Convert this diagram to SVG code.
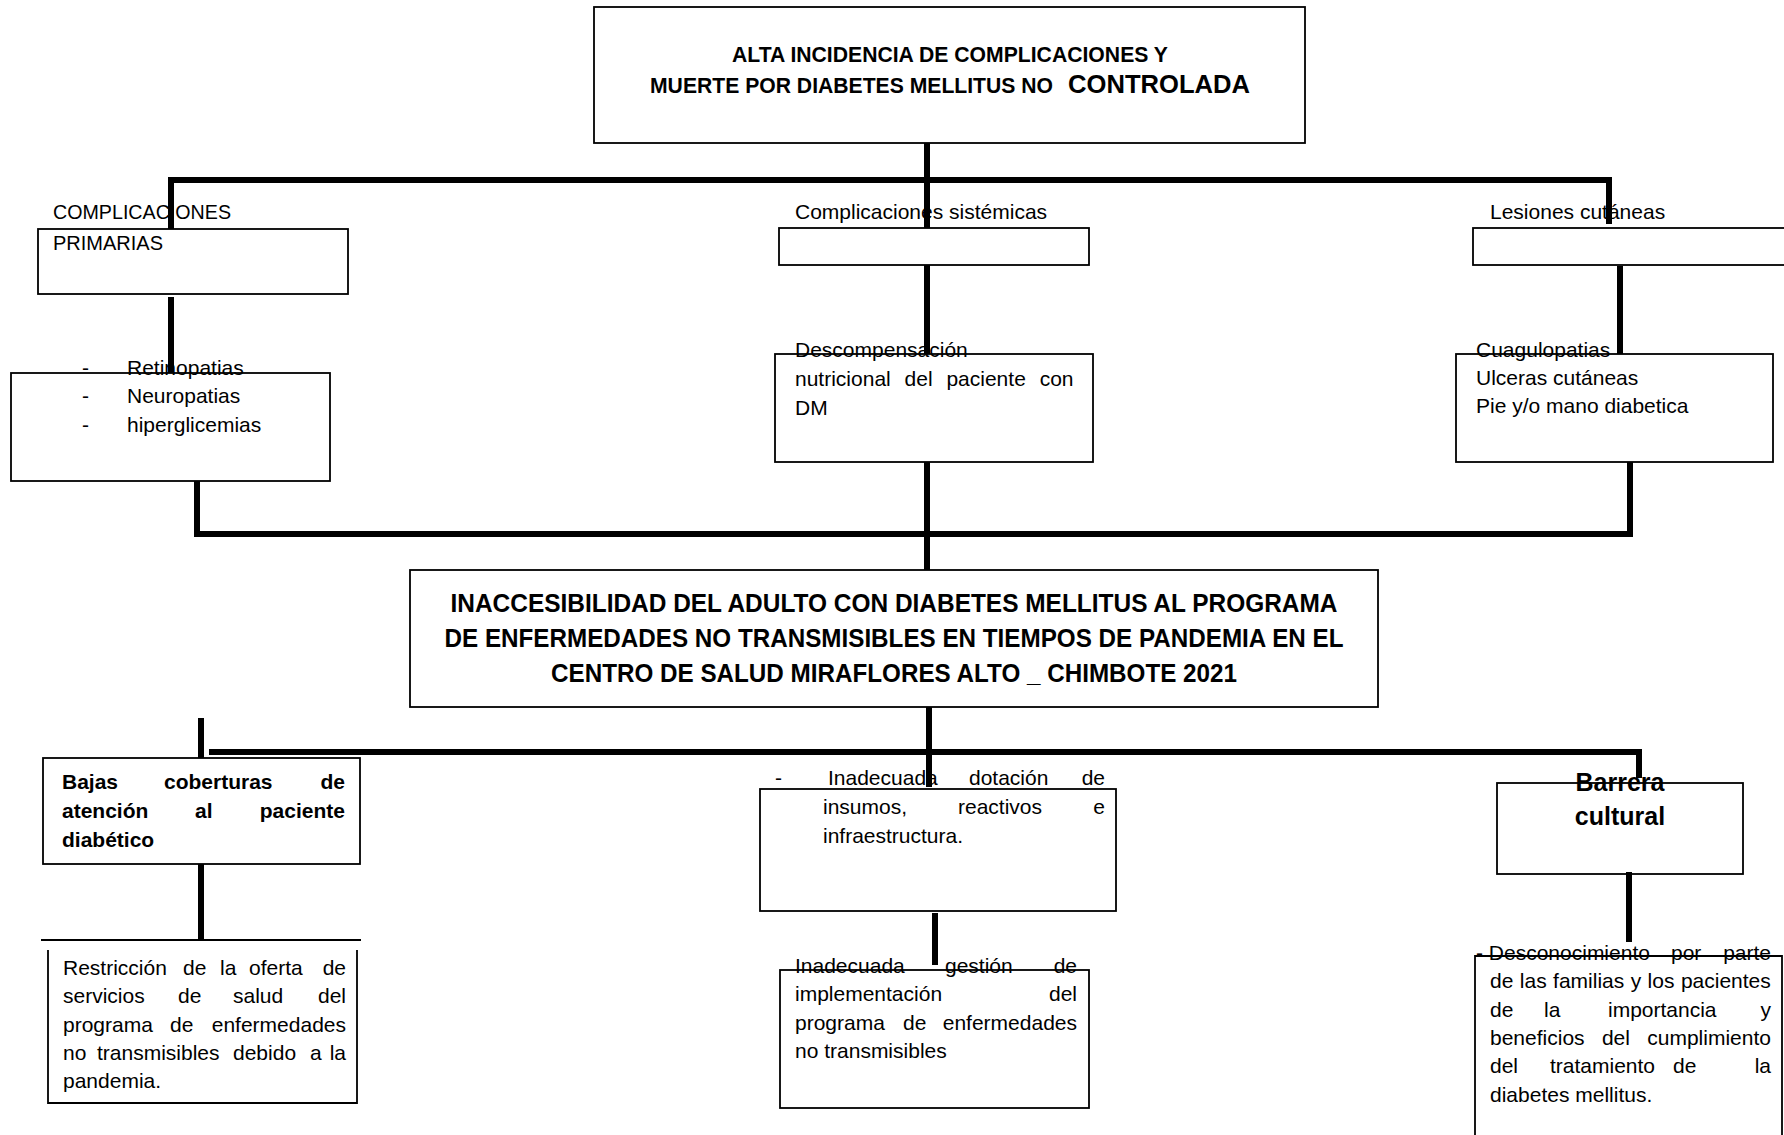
<svg xmlns="http://www.w3.org/2000/svg" width="1784" height="1135" viewBox="0 0 1784 1135">
<style>
.box{fill:#fff;stroke:#000;stroke-width:1.8}
.ln{stroke:#000;stroke-width:6;fill:none}
.thin{stroke:#000;stroke-width:1.8;fill:none}
text{font-family:"Liberation Sans",Arial,sans-serif;font-size:21px;fill:#000}
.b{font-weight:bold}
.big{font-size:25px}
</style>
<rect width="1784" height="1135" fill="#fff"/>
<g id="n-top">
<rect class="box" x="594" y="7" width="711" height="136"/>
<text class="b" x="950" y="62" text-anchor="middle" textLength="436" lengthAdjust="spacingAndGlyphs" style="font-size:22px">ALTA INCIDENCIA DE COMPLICACIONES Y</text>
<text class="b" style="font-size:22px"><tspan x="650" y="93" textLength="403" lengthAdjust="spacingAndGlyphs">MUERTE POR DIABETES MELLITUS NO</tspan><tspan x="1068" y="93" font-size="25" textLength="182" lengthAdjust="spacingAndGlyphs">CONTROLADA</tspan></text>
</g>
<g id="n-prim">
<rect class="box" x="38" y="229" width="310" height="65"/>
</g>
<g id="n-prim2">
<rect class="box" x="11" y="373" width="319" height="108"/>
</g>
<g id="n-sist">
<rect class="box" x="779" y="228" width="310" height="37"/>
</g>
<g id="n-sist2">
<rect class="box" x="775" y="354" width="318" height="108"/>
</g>
<g id="n-les">
<rect class="box" x="1473" y="228" width="320" height="37"/>
</g>
<g id="n-les2">
<rect class="box" x="1456" y="354" width="317" height="108"/>
</g>
<g id="n-main">
<rect class="box" x="410" y="570" width="968" height="137"/>
<text class="b big" x="894" y="612" text-anchor="middle" textLength="887" lengthAdjust="spacingAndGlyphs">INACCESIBILIDAD  DEL ADULTO  CON DIABETES MELLITUS AL PROGRAMA</text>
<text class="b big" x="894" y="647" text-anchor="middle" textLength="899" lengthAdjust="spacingAndGlyphs">DE ENFERMEDADES NO TRANSMISIBLES EN TIEMPOS DE PANDEMIA EN EL</text>
<text class="b big" x="894" y="682" text-anchor="middle" textLength="686" lengthAdjust="spacingAndGlyphs">CENTRO DE SALUD MIRAFLORES ALTO _ CHIMBOTE 2021</text>
</g>
<g id="n-bajas">
<rect class="box" x="43" y="758" width="317" height="106"/>
<text class="b"><tspan x="62" y="789">Bajas</tspan><tspan x="164" y="789">coberturas</tspan><tspan x="345" y="789" text-anchor="end">de</tspan></text>
<text class="b"><tspan x="62" y="818">atención</tspan><tspan x="195" y="818">al</tspan><tspan x="345" y="818" text-anchor="end">paciente</tspan></text>
<text class="b" x="62" y="847">diabético</text>
</g>
<g id="n-restr">
<path class="thin" d="M48,950 V1103 H357 V950"/>
<text><tspan x="63" y="975">Restricción</tspan><tspan x="183" y="975">de</tspan><tspan x="220" y="975">la</tspan><tspan x="249" y="975">oferta</tspan><tspan x="346" y="975" text-anchor="end">de</tspan></text>
<text><tspan x="63" y="1003">servicios</tspan><tspan x="178" y="1003">de</tspan><tspan x="233" y="1003">salud</tspan><tspan x="346" y="1003" text-anchor="end">del</tspan></text>
<text><tspan x="63" y="1032">programa</tspan><tspan x="170" y="1032">de</tspan><tspan x="346" y="1032" text-anchor="end">enfermedades</tspan></text>
<text><tspan x="63" y="1060">no</tspan><tspan x="97" y="1060">transmisibles</tspan><tspan x="233" y="1060">debido</tspan><tspan x="310" y="1060">a</tspan><tspan x="346" y="1060" text-anchor="end">la</tspan></text>
<text x="63" y="1088">pandemia.</text>
</g>
<g id="n-dot">
<rect class="box" x="760" y="789" width="356" height="122"/>
</g>
<g id="n-gest">
<rect class="box" x="780" y="970" width="309" height="138"/>
</g>
<g id="n-barr">
<rect class="box" x="1497" y="783" width="246" height="91"/>
</g>
<g id="n-desc">
<path class="thin" d="M1475,1135 V956 H1782 V1135"/>
</g>
<g id="connectors">
<line class="ln" x1="927" y1="143" x2="927" y2="228"/>
<line class="ln" x1="168" y1="180" x2="1612" y2="180"/>
<line class="ln" x1="171" y1="177" x2="171" y2="229"/>
<line class="ln" x1="1609" y1="177" x2="1609" y2="224"/>
<line class="ln" x1="171" y1="297" x2="171" y2="373"/>
<line class="ln" x1="927" y1="265" x2="927" y2="354"/>
<line class="ln" x1="1620" y1="266" x2="1620" y2="354"/>
<line class="ln" x1="197" y1="481" x2="197" y2="537"/>
<line class="ln" x1="927" y1="462" x2="927" y2="570"/>
<line class="ln" x1="1630" y1="462" x2="1630" y2="537"/>
<line class="ln" x1="194" y1="534" x2="1633" y2="534"/>
<line class="ln" x1="929" y1="707" x2="929" y2="787"/>
<line class="ln" x1="209" y1="752" x2="1642" y2="752"/>
<line class="ln" x1="201" y1="718" x2="201" y2="758"/>
<line class="ln" x1="1639" y1="749" x2="1639" y2="778"/>
<line class="ln" x1="201" y1="864" x2="201" y2="940"/>
<line class="thin" x1="41" y1="940" x2="361" y2="940"/>
<line class="ln" x1="935" y1="913" x2="935" y2="965"/>
<line class="ln" x1="1629" y1="872" x2="1629" y2="942"/>
</g>
<g id="labels">
<text x="53" y="219" textLength="178" lengthAdjust="spacingAndGlyphs">COMPLICACIONES</text>
<text x="53" y="250" textLength="110" lengthAdjust="spacingAndGlyphs">PRIMARIAS</text>
<text><tspan x="82" y="375">-</tspan><tspan x="127" y="375">Retinopatias</tspan></text>
<text><tspan x="82" y="403">-</tspan><tspan x="127" y="403">Neuropatias</tspan></text>
<text><tspan x="82" y="432">-</tspan><tspan x="127" y="432">hiperglicemias</tspan></text>
<text x="795" y="219">Complicaciones sistémicas</text>
<text x="795" y="357">Descompensación</text>
<text x="795" y="386" word-spacing="8">nutricional del paciente con</text>
<text x="795" y="415">DM</text>
<text x="1490" y="219">Lesiones cutáneas</text>
<text x="1476" y="357">Cuagulopatias</text>
<text x="1476" y="385">Ulceras cutáneas</text>
<text x="1476" y="413">Pie y/o mano diabetica</text>
<text><tspan x="775" y="785">-</tspan><tspan x="828" y="785">Inadecuada</tspan><tspan x="969" y="785">dotación</tspan><tspan x="1105" y="785" text-anchor="end">de</tspan></text>
<text><tspan x="823" y="814">insumos,</tspan><tspan x="958" y="814">reactivos</tspan><tspan x="1105" y="814" text-anchor="end">e</tspan></text>
<text x="823" y="843">infraestructura.</text>
<text><tspan x="795" y="973">Inadecuada</tspan><tspan x="945" y="973">gestión</tspan><tspan x="1077" y="973" text-anchor="end">de</tspan></text>
<text><tspan x="795" y="1001">implementación</tspan><tspan x="1077" y="1001" text-anchor="end">del</tspan></text>
<text><tspan x="795" y="1030">programa</tspan><tspan x="903" y="1030">de</tspan><tspan x="1077" y="1030" text-anchor="end">enfermedades</tspan></text>
<text x="795" y="1058">no transmisibles</text>
<text class="b big" x="1620" y="791" text-anchor="middle">Barrera</text>
<text class="b big" x="1620" y="825" text-anchor="middle">cultural</text>
<text><tspan x="1476" y="960">- Desconocimiento</tspan><tspan x="1671" y="960">por</tspan><tspan x="1771" y="960" text-anchor="end">parte</tspan></text>
<text x="1490" y="988" word-spacing="0.6">de las familias y los pacientes</text>
<text><tspan x="1490" y="1017">de</tspan><tspan x="1544" y="1017">la</tspan><tspan x="1608" y="1017">importancia</tspan><tspan x="1771" y="1017" text-anchor="end">y</tspan></text>
<text x="1490" y="1045" word-spacing="11.5">beneficios del cumplimiento</text>
<text><tspan x="1490" y="1073">del</tspan><tspan x="1550" y="1073">tratamiento</tspan><tspan x="1673" y="1073">de</tspan><tspan x="1771" y="1073" text-anchor="end">la</tspan></text>
<text x="1490" y="1102">diabetes mellitus.</text>
</g>
</svg>
